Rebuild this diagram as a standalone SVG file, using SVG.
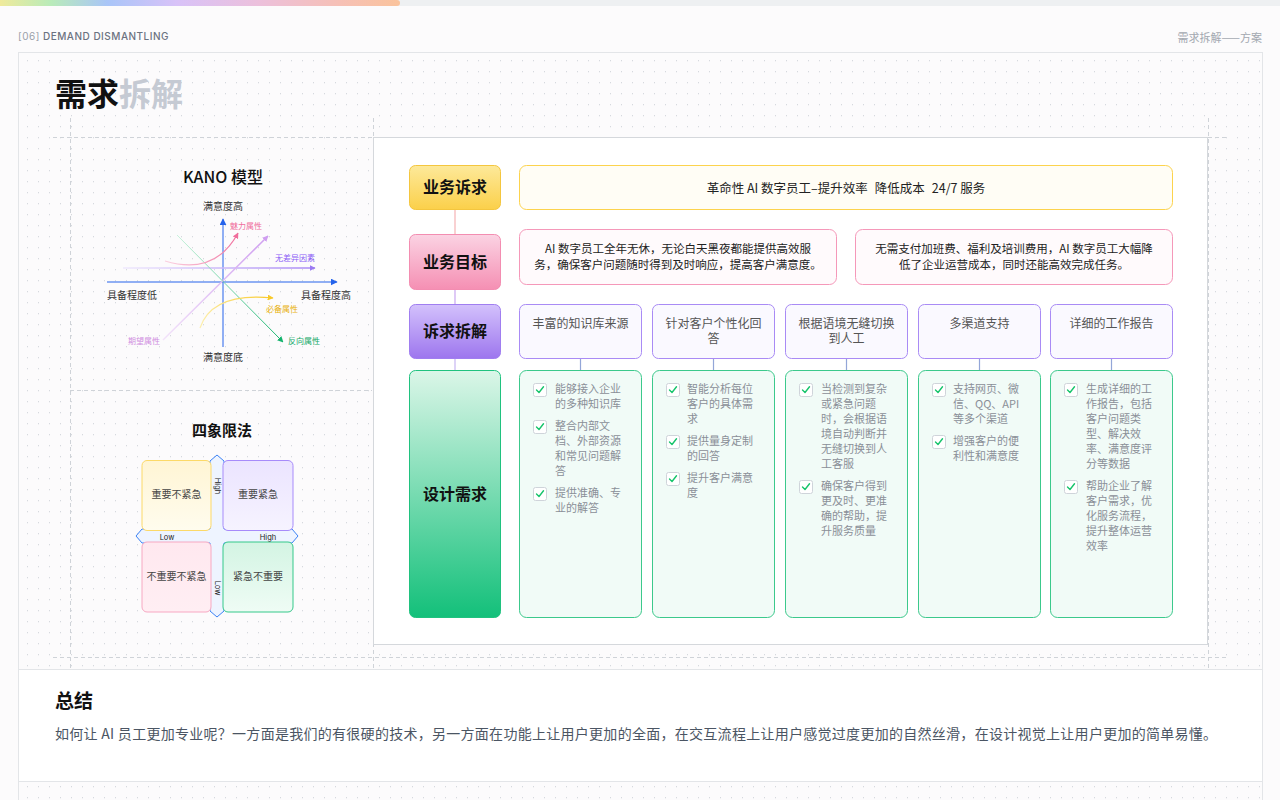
<svg xmlns="http://www.w3.org/2000/svg" width="1280" height="800" viewBox="0 0 1280 800">
<defs>
<style>
.cn{font-family:"Noto Sans CJK SC","Noto Sans",sans-serif;}
.lat{font-family:"Inter","Liberation Sans","Noto Sans CJK SC",sans-serif;}
.dash{stroke:#cfd3d8;stroke-width:1;stroke-dasharray:4 3;fill:none;}
.lbl{font-family:"Noto Sans CJK SC",sans-serif;font-size:16px;font-weight:700;fill:#111;text-anchor:middle;}
.r3box{fill:#faf9ff;stroke:#a98bf5;stroke-width:1;}
.r4box{fill:#f1fbf7;stroke:#3cc98c;stroke-width:1;}
.r3t{font-family:"Noto Sans CJK SC",sans-serif;font-size:12px;fill:#555;text-anchor:middle;}
.ct{font-family:"Noto Sans CJK SC",sans-serif;font-size:11px;fill:#8a8f98;}
.cb{fill:#fff;stroke:#cfd4da;stroke-width:1;}
.ck{fill:none;stroke:#16c46b;stroke-width:1.4;stroke-linecap:round;stroke-linejoin:round;}
.ax{font-family:"Noto Sans CJK SC",sans-serif;font-size:10px;fill:#333;}
.kl{font-family:"Noto Sans CJK SC",sans-serif;font-size:8px;}
.qt{font-family:"Noto Sans CJK SC",sans-serif;font-size:10px;fill:#444;text-anchor:middle;}
.hl{font-family:"Inter","Liberation Sans",sans-serif;font-size:7.5px;fill:#222;text-anchor:middle;}
.conn{stroke-width:1.2;fill:none;}
</style>
<pattern id="dots" width="11" height="11" patternUnits="userSpaceOnUse">
<rect x="5" y="5" width="1" height="1.3" fill="#d6d9de"/>
</pattern>
<linearGradient id="bar" x1="0" y1="0" x2="1" y2="0">
<stop offset="0" stop-color="#f6ea98"/>
<stop offset="0.14" stop-color="#b9ebb9"/>
<stop offset="0.28" stop-color="#a9c5f8"/>
<stop offset="0.45" stop-color="#d8c2f8"/>
<stop offset="0.65" stop-color="#ecc0dc"/>
<stop offset="0.85" stop-color="#f6c0b6"/>
<stop offset="1" stop-color="#fac39c"/>
</linearGradient>
<linearGradient id="gY" x1="0" y1="0" x2="0" y2="1"><stop offset="0" stop-color="#fde99a"/><stop offset="1" stop-color="#fbd04a"/></linearGradient>
<linearGradient id="gP" x1="0" y1="0" x2="0" y2="1"><stop offset="0" stop-color="#fbd3e3"/><stop offset="1" stop-color="#f58fb3"/></linearGradient>
<linearGradient id="gV" x1="0" y1="0" x2="0" y2="1"><stop offset="0" stop-color="#d3c1fc"/><stop offset="1" stop-color="#9d76ee"/></linearGradient>
<linearGradient id="gG" x1="0" y1="0" x2="0" y2="1"><stop offset="0" stop-color="#dbf6e8"/><stop offset="1" stop-color="#13c07a"/></linearGradient>
<linearGradient id="qY" x1="0" y1="0" x2="0" y2="1"><stop offset="0" stop-color="#fff5d4"/><stop offset="1" stop-color="#fffcee"/></linearGradient>
<linearGradient id="qV" x1="0" y1="0" x2="0" y2="1"><stop offset="0" stop-color="#ebe4ff"/><stop offset="1" stop-color="#f6f3ff"/></linearGradient>
<linearGradient id="qP" x1="0" y1="0" x2="0" y2="1"><stop offset="0" stop-color="#ffe8ef"/><stop offset="1" stop-color="#ffeef3"/></linearGradient>
<linearGradient id="qG" x1="0" y1="0" x2="0" y2="1"><stop offset="0" stop-color="#d3f4e3"/><stop offset="1" stop-color="#effcf5"/></linearGradient>
<linearGradient id="kPink" gradientUnits="userSpaceOnUse" x1="165" y1="261" x2="238" y2="233"><stop offset="0" stop-color="#fbd0e0"/><stop offset="1" stop-color="#f06e9c"/></linearGradient>
<linearGradient id="kDiag" gradientUnits="userSpaceOnUse" x1="163" y1="340" x2="268" y2="236"><stop offset="0" stop-color="#f3e3fa"/><stop offset="1" stop-color="#cf9ef0"/></linearGradient>
<linearGradient id="kHor" gradientUnits="userSpaceOnUse" x1="123" y1="268" x2="315" y2="268"><stop offset="0" stop-color="#efe9fd"/><stop offset="1" stop-color="#a98af5"/></linearGradient>
<linearGradient id="kYel" gradientUnits="userSpaceOnUse" x1="200" y1="328" x2="273" y2="298"><stop offset="0" stop-color="#fdf0b0"/><stop offset="1" stop-color="#f8c92a"/></linearGradient>
<linearGradient id="kGrn" gradientUnits="userSpaceOnUse" x1="177" y1="235" x2="283" y2="342"><stop offset="0" stop-color="#c9f2dc"/><stop offset="1" stop-color="#13b36c"/></linearGradient>
<marker id="aBlue" viewBox="0 0 10 10" refX="9" refY="5" markerWidth="7" markerHeight="7" markerUnits="userSpaceOnUse" orient="auto"><path d="M0,0 L10,5 L0,10 z" fill="#2563eb"/></marker>
<marker id="aPink" viewBox="0 0 10 10" refX="9" refY="5" markerWidth="6" markerHeight="6" markerUnits="userSpaceOnUse" orient="auto"><path d="M0,0 L10,5 L0,10 z" fill="#f06e9c"/></marker>
<marker id="aDiag" viewBox="0 0 10 10" refX="9" refY="5" markerWidth="6" markerHeight="6" markerUnits="userSpaceOnUse" orient="auto"><path d="M0,0 L10,5 L0,10 z" fill="#cf9ef0"/></marker>
<marker id="aHor" viewBox="0 0 10 10" refX="9" refY="5" markerWidth="6" markerHeight="6" markerUnits="userSpaceOnUse" orient="auto"><path d="M0,0 L10,5 L0,10 z" fill="#9b7af2"/></marker>
<marker id="aYel" viewBox="0 0 10 10" refX="9" refY="5" markerWidth="6" markerHeight="6" markerUnits="userSpaceOnUse" orient="auto"><path d="M0,0 L10,5 L0,10 z" fill="#f8c92a"/></marker>
<marker id="aGrn" viewBox="0 0 10 10" refX="9" refY="5" markerWidth="6" markerHeight="6" markerUnits="userSpaceOnUse" orient="auto"><path d="M0,0 L10,5 L0,10 z" fill="#13b36c"/></marker>
</defs>

<!-- page -->
<rect x="0" y="0" width="1280" height="800" fill="#fcfbfc"/>
<rect x="0" y="0" width="1280" height="6" fill="#eef0f2"/>
<rect x="-6" y="0" width="406" height="6" rx="3" fill="url(#bar)"/>

<text x="18" y="40" class="lat" font-size="10" letter-spacing="0.5"><tspan fill="#9aa0a8">[06]</tspan><tspan fill="#6b7280" font-weight="500"> DEMAND DISMANTLING</tspan></text>
<text x="1262" y="42" class="cn" font-size="11" fill="#a3a8b0" text-anchor="end">需求拆解——方案</text>

<!-- frame -->
<rect x="18.5" y="52.5" width="1244" height="800" fill="url(#dots)" stroke="#e3e5e8"/>

<!-- title -->
<text x="55" y="106" class="cn" font-size="32" font-weight="700"><tspan fill="#111">需求</tspan><tspan fill="#c5cad3">拆解</tspan></text>

<!-- guide lines -->
<g id="guides">
<line x1="53" y1="137.5" x2="1228" y2="137.5" class="dash"/>
<line x1="53" y1="657.5" x2="1228" y2="657.5" class="dash"/>
<line x1="70.5" y1="118" x2="70.5" y2="668" class="dash"/>
<line x1="373.5" y1="118" x2="373.5" y2="668" class="dash"/>
<line x1="1208.5" y1="118" x2="1208.5" y2="668" class="dash"/>
<line x1="70" y1="390.5" x2="372" y2="390.5" class="dash"/>
</g>

<!-- KANO -->
<g id="kano">
<text x="223" y="183" class="cn" font-size="16" font-weight="500" fill="#111" text-anchor="middle">KANO 模型</text>
<line x1="107" y1="282" x2="337" y2="282" stroke="#2563eb" stroke-width="1" marker-end="url(#aBlue)"/>
<line x1="223" y1="347" x2="223" y2="219" stroke="#2563eb" stroke-width="1" marker-end="url(#aBlue)"/>
<text x="223" y="210" class="ax" text-anchor="middle">满意度高</text>
<text x="223" y="361" class="ax" text-anchor="middle">满意度底</text>
<text x="107" y="299" class="ax">具备程度低</text>
<text x="351" y="299" class="ax" text-anchor="end">具备程度高</text>
<path d="M123,268 L315,268" stroke="url(#kHor)" stroke-width="1.5" fill="none" marker-end="url(#aHor)"/>
<path d="M163,340 L268,236" stroke="url(#kDiag)" stroke-width="1.5" fill="none" marker-end="url(#aDiag)"/>
<path d="M177,235 L283,342" stroke="url(#kGrn)" stroke-width="1" fill="none" marker-end="url(#aGrn)"/>
<path d="M165,261 Q215,276 238,233" stroke="url(#kPink)" stroke-width="1.2" fill="none" marker-end="url(#aPink)"/>
<path d="M200,328 Q212,292 273,298" stroke="url(#kYel)" stroke-width="1.2" fill="none" marker-end="url(#aYel)"/>
<text x="230" y="229" class="kl" fill="#f06e9c">魅力属性</text>
<text x="275" y="261" class="kl" fill="#8b5cf6">无差异因素</text>
<text x="266" y="312" class="kl" fill="#e8b10c">必备属性</text>
<text x="288" y="344" class="kl" fill="#10a866">反向属性</text>
<text x="128" y="344" class="kl" fill="#d08ee0">期望属性</text>
</g>

<!-- Four quadrants -->
<g id="quadrant">
<text x="222" y="436" class="cn" font-size="15" font-weight="600" fill="#111" text-anchor="middle">四象限法</text>
<polygon points="217,455 224,461 224,529 292,529 298,536 292,543 224,543 224,611 217,617 210,611 210,543 142,543 136,536 142,529 210,529 210,461" fill="#eef4ff" stroke="#3b82f6" stroke-width="1"/>
<rect x="142" y="460.5" width="69" height="70" rx="5" fill="url(#qY)" stroke="#fcd968"/>
<rect x="223" y="460.5" width="70" height="70" rx="5" fill="url(#qV)" stroke="#a78bfa"/>
<rect x="142" y="542" width="69" height="70" rx="5" fill="url(#qP)" stroke="#f7a8c2"/>
<rect x="223" y="542" width="70" height="70" rx="5" fill="url(#qG)" stroke="#34c98a"/>
<text x="176.5" y="498" class="qt">重要不紧急</text>
<text x="258" y="498" class="qt">重要紧急</text>
<text x="176.5" y="580" class="qt">不重要不紧急</text>
<text x="258" y="580" class="qt">紧急不重要</text>
<text x="167" y="539.5" class="hl">Low</text>
<text x="268" y="539.5" class="hl">High</text>
<text x="0" y="0" class="hl" transform="translate(214.5,486) rotate(90)">High</text>
<text x="0" y="0" class="hl" transform="translate(214.5,588) rotate(90)">Low</text>
</g>

<!-- right panel -->
<rect x="373.5" y="137.5" width="834" height="507" fill="#fff" stroke="#d5d8dc"/>

<!-- connectors -->
<g id="connectors">
<line x1="455" y1="210" x2="455" y2="234" stroke="#f5b3b4" class="conn"/>
<line x1="455" y1="290" x2="455" y2="304" stroke="#c9a6f0" class="conn"/>
<line x1="455" y1="359" x2="455" y2="370" stroke="#c6b6f2" class="conn"/>
<line x1="580.5" y1="359" x2="580.5" y2="370" stroke="#93a6d8" class="conn"/>
<line x1="713.5" y1="359" x2="713.5" y2="370" stroke="#93a6d8" class="conn"/>
<line x1="846.5" y1="359" x2="846.5" y2="370" stroke="#93a6d8" class="conn"/>
<line x1="979.5" y1="359" x2="979.5" y2="370" stroke="#93a6d8" class="conn"/>
<line x1="1111.5" y1="359" x2="1111.5" y2="370" stroke="#93a6d8" class="conn"/>
</g>

<!-- label column -->
<g id="lbl-appeal">
<rect x="409.5" y="165.5" width="91" height="44" rx="6" fill="url(#gY)" stroke="#f4c63f"/>
<text x="455" y="193" class="lbl">业务诉求</text>
</g>
<g id="lbl-goal">
<rect x="409.5" y="234.5" width="91" height="55" rx="6" fill="url(#gP)" stroke="#f38db1"/>
<text x="455" y="268" class="lbl">业务目标</text>
</g>
<g id="lbl-split">
<rect x="409.5" y="304.5" width="91" height="54" rx="6" fill="url(#gV)" stroke="#a07ef0"/>
<text x="455" y="337" class="lbl">诉求拆解</text>
</g>
<g id="lbl-design">
<rect x="409.5" y="370.5" width="91" height="247" rx="6" fill="url(#gG)" stroke="#20c27f"/>
<text x="455" y="500" class="lbl">设计需求</text>
</g>

<!-- row 1 -->
<g id="appeal-box">
<rect x="519.5" y="165.5" width="653" height="44" rx="7" fill="#fffdf5" stroke="#fcd34d"/>
<text x="846" y="192.5" class="cn" font-size="12.5" fill="#222" text-anchor="middle">革命性 AI 数字员工–提升效率<tspan dx="7">降低成本</tspan><tspan dx="7">24/7 服务</tspan></text>
</g>

<!-- row 2 -->
<g id="goal-1">
<rect x="519.5" y="229.5" width="317" height="55" rx="7" fill="#fffafc" stroke="#f598b9"/>
<text class="cn" font-size="11.5" fill="#222" text-anchor="middle"><tspan x="678" y="253">AI 数字员工全年无休，无论白天黑夜都能提供高效服</tspan><tspan x="678" y="269">务，确保客户问题随时得到及时响应，提高客户满意度。</tspan></text>
</g>
<g id="goal-2">
<rect x="855.5" y="229.5" width="317" height="55" rx="7" fill="#fffafc" stroke="#f598b9"/>
<text class="cn" font-size="11.5" fill="#222" text-anchor="middle"><tspan x="1014" y="253">无需支付加班费、福利及培训费用，AI 数字员工大幅降</tspan><tspan x="1014" y="269">低了企业运营成本，同时还能高效完成任务。</tspan></text>
</g>

<!-- row 3 -->
<g id="split-1"><rect x="519.5" y="304.5" width="122" height="54" rx="6" class="r3box"/><text class="r3t"><tspan x="580.5" y="328">丰富的知识库来源</tspan></text></g>
<g id="split-2"><rect x="652.5" y="304.5" width="122" height="54" rx="6" class="r3box"/><text class="r3t"><tspan x="713.5" y="328">针对客户个性化回</tspan><tspan x="713.5" y="343">答</tspan></text></g>
<g id="split-3"><rect x="785.5" y="304.5" width="122" height="54" rx="6" class="r3box"/><text class="r3t"><tspan x="846.5" y="328">根据语境无缝切换</tspan><tspan x="846.5" y="343">到人工</tspan></text></g>
<g id="split-4"><rect x="918.5" y="304.5" width="122" height="54" rx="6" class="r3box"/><text class="r3t"><tspan x="979.5" y="328">多渠道支持</tspan></text></g>
<g id="split-5"><rect x="1050.5" y="304.5" width="122" height="54" rx="6" class="r3box"/><text class="r3t"><tspan x="1111.5" y="328">详细的工作报告</tspan></text></g>

<!-- row 4 -->
<g id="design-1">
<rect x="519.5" y="370.5" width="122" height="247" rx="7" class="r4box"/>
<rect x="533.5" y="383.5" width="13" height="13" rx="2" class="cb"/><path d="M536.5,390 L539,392.5 L543.5,386.8" class="ck"/>
<text class="ct"><tspan x="555" y="393">能够接入企业</tspan><tspan x="555" y="408">的多种知识库</tspan></text>
<rect x="533.5" y="420.5" width="13" height="13" rx="2" class="cb"/><path d="M536.5,427 L539,429.5 L543.5,423.8" class="ck"/>
<text class="ct"><tspan x="555" y="430">整合内部文</tspan><tspan x="555" y="445">档、外部资源</tspan><tspan x="555" y="460">和常见问题解</tspan><tspan x="555" y="475">答</tspan></text>
<rect x="533.5" y="487.5" width="13" height="13" rx="2" class="cb"/><path d="M536.5,494 L539,496.5 L543.5,490.8" class="ck"/>
<text class="ct"><tspan x="555" y="497">提供准确、专</tspan><tspan x="555" y="512">业的解答</tspan></text>
</g>
<g id="design-2">
<rect x="652.5" y="370.5" width="122" height="247" rx="7" class="r4box"/>
<rect x="666.5" y="383.5" width="13" height="13" rx="2" class="cb"/><path d="M669.5,390 L672,392.5 L676.5,386.8" class="ck"/>
<text class="ct"><tspan x="687" y="393">智能分析每位</tspan><tspan x="687" y="408">客户的具体需</tspan><tspan x="687" y="423">求</tspan></text>
<rect x="666.5" y="435.5" width="13" height="13" rx="2" class="cb"/><path d="M669.5,442 L672,444.5 L676.5,438.8" class="ck"/>
<text class="ct"><tspan x="687" y="445">提供量身定制</tspan><tspan x="687" y="460">的回答</tspan></text>
<rect x="666.5" y="472.5" width="13" height="13" rx="2" class="cb"/><path d="M669.5,479 L672,481.5 L676.5,475.8" class="ck"/>
<text class="ct"><tspan x="687" y="482">提升客户满意</tspan><tspan x="687" y="497">度</tspan></text>
</g>
<g id="design-3">
<rect x="785.5" y="370.5" width="122" height="247" rx="7" class="r4box"/>
<rect x="799.5" y="383.5" width="13" height="13" rx="2" class="cb"/><path d="M802.5,390 L805,392.5 L809.5,386.8" class="ck"/>
<text class="ct"><tspan x="821" y="393">当检测到复杂</tspan><tspan x="821" y="408">或紧急问题</tspan><tspan x="821" y="423">时，会根据语</tspan><tspan x="821" y="438">境自动判断并</tspan><tspan x="821" y="453">无缝切换到人</tspan><tspan x="821" y="468">工客服</tspan></text>
<rect x="799.5" y="480.5" width="13" height="13" rx="2" class="cb"/><path d="M802.5,487 L805,489.5 L809.5,483.8" class="ck"/>
<text class="ct"><tspan x="821" y="490">确保客户得到</tspan><tspan x="821" y="505">更及时、更准</tspan><tspan x="821" y="520">确的帮助，提</tspan><tspan x="821" y="535">升服务质量</tspan></text>
</g>
<g id="design-4">
<rect x="918.5" y="370.5" width="122" height="247" rx="7" class="r4box"/>
<rect x="932.5" y="383.5" width="13" height="13" rx="2" class="cb"/><path d="M935.5,390 L938,392.5 L942.5,386.8" class="ck"/>
<text class="ct"><tspan x="953" y="393">支持网页、微</tspan><tspan x="953" y="408">信、QQ、API</tspan><tspan x="953" y="423">等多个渠道</tspan></text>
<rect x="932.5" y="435.5" width="13" height="13" rx="2" class="cb"/><path d="M935.5,442 L938,444.5 L942.5,438.8" class="ck"/>
<text class="ct"><tspan x="953" y="445">增强客户的便</tspan><tspan x="953" y="460">利性和满意度</tspan></text>
</g>
<g id="design-5">
<rect x="1050.5" y="370.5" width="122" height="247" rx="7" class="r4box"/>
<rect x="1064.5" y="383.5" width="13" height="13" rx="2" class="cb"/><path d="M1067.5,390 L1070,392.5 L1074.5,386.8" class="ck"/>
<text class="ct"><tspan x="1086" y="393">生成详细的工</tspan><tspan x="1086" y="408">作报告，包括</tspan><tspan x="1086" y="423">客户问题类</tspan><tspan x="1086" y="438">型、解决效</tspan><tspan x="1086" y="453">率、满意度评</tspan><tspan x="1086" y="468">分等数据</tspan></text>
<rect x="1064.5" y="480.5" width="13" height="13" rx="2" class="cb"/><path d="M1067.5,487 L1070,489.5 L1074.5,483.8" class="ck"/>
<text class="ct"><tspan x="1086" y="490">帮助企业了解</tspan><tspan x="1086" y="505">客户需求，优</tspan><tspan x="1086" y="520">化服务流程，</tspan><tspan x="1086" y="535">提升整体运营</tspan><tspan x="1086" y="550">效率</tspan></text>
</g>

<!-- summary -->
<g id="summary">
<rect x="18.5" y="669.5" width="1244" height="112" fill="#fff" stroke="#e3e5e8"/>
<text x="55" y="708" class="cn" font-size="19" font-weight="700" fill="#111">总结</text>
<text x="55" y="739" class="cn" font-size="14" letter-spacing="0.28" fill="#4b5563">如何让 AI 员工更加专业呢？一方面是我们的有很硬的技术，另一方面在功能上让用户更加的全面，在交互流程上让用户感觉过度更加的自然丝滑，在设计视觉上让用户更加的简单易懂。</text>
</g>
</svg>
